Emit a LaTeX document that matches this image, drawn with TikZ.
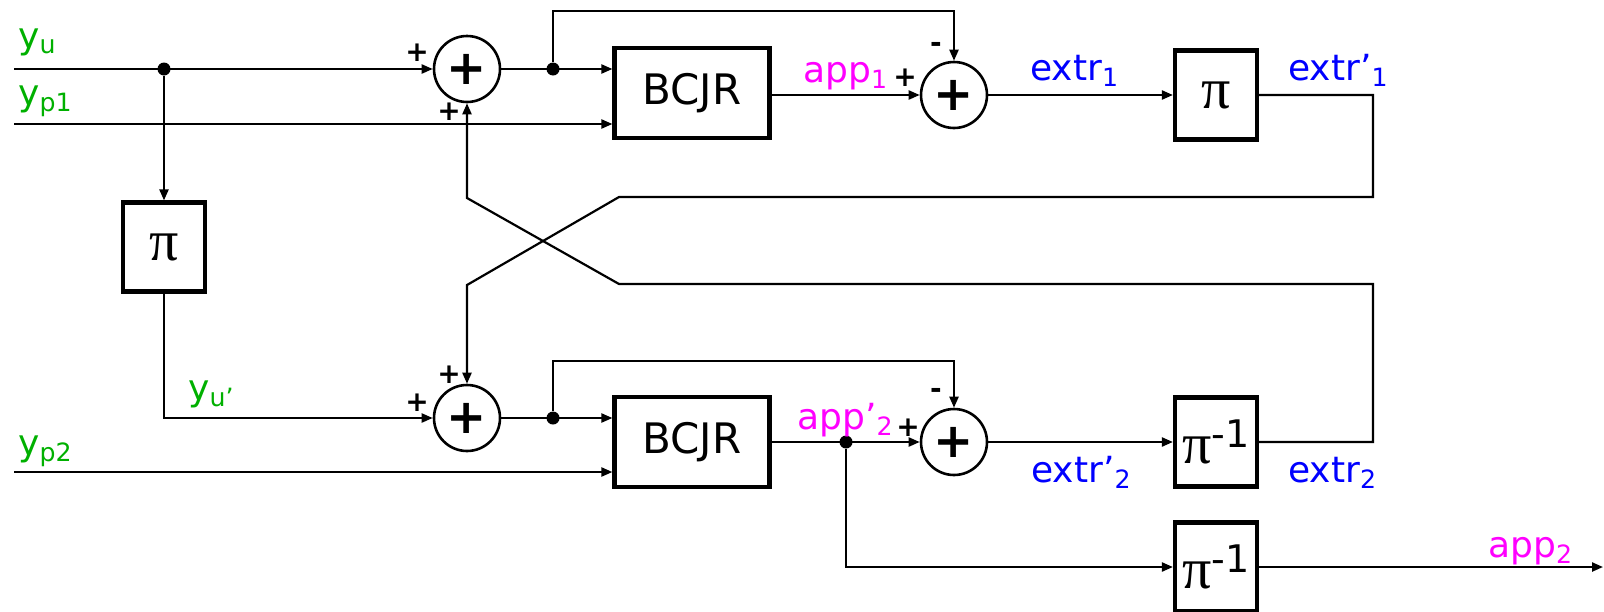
\documentclass[tikz,border=0pt]{standalone}
\usepackage{fontspec}
\setmainfont{DejaVu Sans}
\newfontfamily\pifont{Liberation Serif}
\usepackage{xcolor}
\usetikzlibrary{arrows.meta,calc}
\definecolor{sysgreen}{RGB}{0,176,0}
\definecolor{appmag}{RGB}{255,0,255}
\definecolor{extblue}{RGB}{0,0,255}
\newcommand{\invpi}{π\raisebox{8pt}{\normalfont\fontsize{19}{19}\selectfont -1}}
\tikzset{
  blk/.style ={draw,line width=2.1pt,inner sep=0pt,minimum width=77.5pt,minimum height=45pt,font=\fontsize{21}{21}\selectfont},
  prm/.style ={blk,minimum width=41pt,minimum height=44.5pt,font=\fontsize{29}{29}\pifont},
  sum/.style ={draw,circle,line width=1.3pt,inner sep=0pt,minimum size=33pt,font=\fontsize{24}{24}\selectfont\bfseries},
  flow/.style={-{Triangle[length=5.5pt,width=4.5pt]},line width=1.1pt},
  dot/.style ={circle,fill,inner sep=0pt,minimum size=6.5pt},
  sgn/.style ={inner sep=0pt,font=\fontsize{14}{14}\selectfont\bfseries},
  lbl/.style ={anchor=base west,inner sep=0pt,font=\fontsize{18}{18}\selectfont},
}

\begin{document}
\begin{tikzpicture}[x=0.5pt,y=-0.5pt]
  \useasboundingbox (0,0) rectangle (1604,611);
  % decoder 1
  \node[sum] (add1) at (467,69) {+};
  \node[blk] (bcjr1) at (692,93) {BCJR};
  \node[sum] (add3) at (954,95) {+};
  \node[prm] (pi1) at (1216,95) {π};
  \node[prm] (pi0) at (164,247) {π};
  % decoder 2
  \node[sum] (add2) at (467,418) {+};
  \node[blk] (bcjr2) at (692,442) {BCJR};
  \node[sum] (add4) at (954,442) {+};
  \node[prm] (ipi1) at (1216,442) {\invpi};
  \node[prm] (ipi2) at (1216,567) {\invpi};

  \coordinate (yu0) at (14,69);
  \coordinate (yp10) at (14,124);
  \coordinate (yp20) at (14,472);
  \coordinate (fb1) at (954,11);
  \coordinate (fb2) at (954,361);
  \coordinate (c1) at (1373,197);
  \coordinate (c2) at (619,197);
  \coordinate (c3) at (467,285);
  \coordinate (c4) at (1373,284);
  \coordinate (c5) at (619,284);
  \coordinate (c6) at (467,198);
  \coordinate (out) at (1603,567);

  \draw[flow] (yu0) -- (add1.west);
  \node[dot] (d0) at (164,69) {};
  \draw[flow] (d0) -- (pi0.north);
  \draw[flow] (yp10) -- (yp10 -| bcjr1.west);
  \draw[flow] (add1.east) -- (add1.east -| bcjr1.west);
  \node[dot] (d1) at (553,69) {};
  \draw[flow] (d1) |- (fb1) -- (add3.north);
  \draw[flow] (bcjr1.east |- add3) -- (add3.west);
  \draw[flow] (add3.east) -- (add3.east -| pi1.west);
  \draw[flow] (pi1.east) -| (c1) -- (c2) -- (c3) -- (add2.north);
  \draw[flow] (ipi1.east) -| (c4) -- (c5) -- (c6) -- (add1.south);

  \draw[flow] (pi0.south) |- (add2.west);
  \draw[flow] (yp20) -- (yp20 -| bcjr2.west);
  \draw[flow] (add2.east) -- (add2.east -| bcjr2.west);
  \node[dot] (d2) at (553,418) {};
  \draw[flow] (d2) |- (fb2) -- (add4.north);
  \draw[flow] (bcjr2.east) -- (add4.west);
  \node[dot] (d3) at (846,442) {};
  \draw[flow] (add4.east) -- (ipi1.west);
  \draw[flow] (d3) |- (ipi2.west);
  \draw[flow] (ipi2.east) -- (out);

  \node[sgn] (s1) at ($(add1)+(-50,-16)$) {+};
  \node[sgn] (s2) at ($(add1)+(-18,43)$) {+};
  \node[sgn] (s3) at ($(add2)+(-18,-43)$) {+};
  \node[sgn] (s4) at ($(add2)+(-50,-15)$) {+};
  \node[sgn] (s5) at ($(add3)+(-49,-17)$) {+};
  \node[sgn] (s6) at ($(add3)+(-18,-48)$) {-};
  \node[sgn] (s7) at ($(add4)+(-46,-14)$) {+};
  \node[sgn] (s8) at ($(add4)+(-18,-49)$) {-};

  \node[lbl,text=sysgreen] (lyu) at (18,48) {y\textsubscript{u}};
  \node[lbl,text=sysgreen] (lyp1) at (18,105) {y\textsubscript{p1}};
  \node[lbl,text=sysgreen] (lyu2) at (188,400) {y\textsubscript{u’}};
  \node[lbl,text=sysgreen] (lyp2) at (18,455) {y\textsubscript{p2}};
  \node[lbl,text=appmag] (lapp1) at (803,82) {app\textsubscript{1}};
  \node[lbl,text=appmag] (lapp2p) at (797,429) {app’\textsubscript{2}};
  \node[lbl,text=appmag] (lapp2) at (1488,557) {app\textsubscript{2}};
  \node[lbl,text=extblue] (lext1) at (1030,80) {extr\textsubscript{1}};
  \node[lbl,text=extblue] (lext1p) at (1288,80) {extr’\textsubscript{1}};
  \node[lbl,text=extblue] (lext2p) at (1031,482) {extr’\textsubscript{2}};
  \node[lbl,text=extblue] (lext2) at (1288,482) {extr\textsubscript{2}};
\end{tikzpicture}
\end{document}
